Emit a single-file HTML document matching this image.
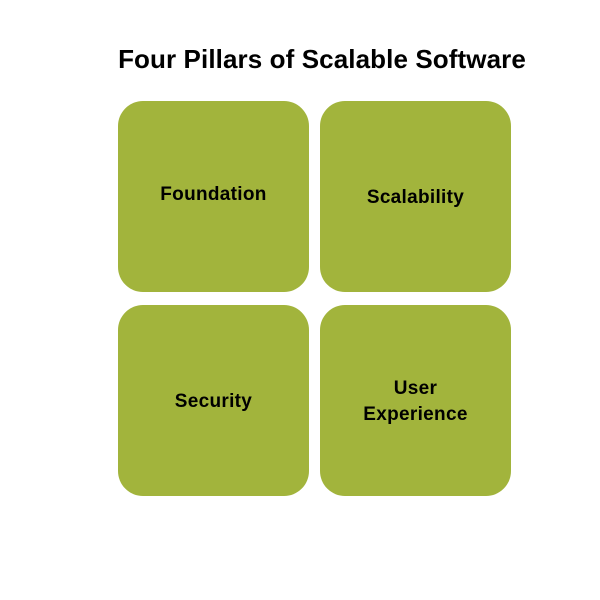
<!DOCTYPE html>
<html><head><style>
body{margin:0;width:600px;height:600px;background:#fff;position:relative;font-family:"Liberation Sans",sans-serif;}
.t{position:absolute;left:0;width:644px;top:44px;text-align:center;font-size:26px;letter-spacing:0.1px;font-weight:bold;color:#000;}
.b{position:absolute;width:191px;height:191px;background:#a2b43c;border-radius:25px;display:flex;align-items:center;justify-content:center;text-align:center;font-weight:bold;font-size:19px;letter-spacing:0.3px;line-height:26px;color:#000;box-sizing:border-box;padding-top:2px;}
</style></head><body>
<div class="t">Four Pillars of Scalable Software</div>
<div class="b" style="left:118px;top:101px;padding-top:0;padding-bottom:4px;">Foundation</div>
<div class="b" style="left:320px;top:101px;">Scalability</div>
<div class="b" style="left:118px;top:305px;">Security</div>
<div class="b" style="left:320px;top:305px;">User<br>Experience</div>
</body></html>
